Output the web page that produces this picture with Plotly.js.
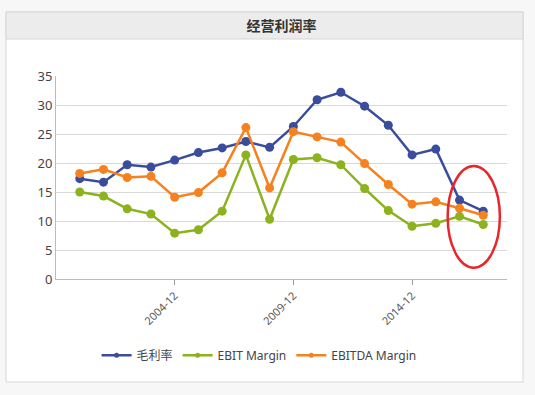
<!DOCTYPE html>
<html>
<head>
<meta charset="utf-8">
<script src="https://cdn.plot.ly/plotly-3.0.1.min.js"></script>
<style>
html,body{margin:0;padding:0;background:#f7f7f7;}
#chart{width:535px;height:395px;}
</style>
</head>
<body>
<div id="chart"></div>
<script>
const periods = ["2000-12","2001-12","2002-12","2003-12","2004-12","2005-12","2006-12","2007-12","2008-12",
  "2009-12","2010-12","2011-12","2012-12","2013-12","2014-12","2015-12","2016-12","2017-12"];
const grossMargin = [17.3,16.7,19.7,19.3,20.5,21.8,22.6,23.7,22.7,26.3,30.9,32.2,29.8,26.5,21.4,22.4,13.6,11.7];
const ebitMargin = [15.0,14.3,12.1,11.2,7.9,8.5,11.7,21.4,10.3,20.6,20.9,19.7,15.6,11.8,9.1,9.6,10.8,9.4];
const ebitdaMargin = [18.2,18.9,17.5,17.7,14.1,14.9,18.3,26.1,15.7,25.4,24.5,23.6,19.9,16.3,12.9,13.3,12.2,11.0];
const tickLabels = ["2004-12","2009-12","2014-12"];
const seriesNames = ["毛利率","EBIT Margin","EBITDA Margin"];

const colors = ["#3a4c9c","#8cb21f","#f5821f"];
const fontFam = "'Noto Sans', 'Noto Sans CJK SC', sans-serif";

function trace(name, y, color){
  return {
    type:"scatter", mode:"lines+markers", name:name, x:periods, y:y,
    line:{color:color, width:2.5},
    marker:{color:color, size:9},
    showlegend:false, legendgroup:name
  };
}
function legendItem(name, color){
  return {
    type:"scatter", mode:"lines+markers", name:name, x:[null], y:[null],
    line:{color:color, width:2.5},
    marker:{color:color, size:5},
    showlegend:true, legendgroup:name
  };
}

const data = [
  trace(seriesNames[0], grossMargin, colors[0]),
  trace(seriesNames[1], ebitMargin, colors[1]),
  trace(seriesNames[2], ebitdaMargin, colors[2]),
  legendItem(seriesNames[0], colors[0]),
  legendItem(seriesNames[1], colors[1]),
  legendItem(seriesNames[2], colors[2])
];

const layout = {
  width:535, height:395,
  paper_bgcolor:"#f7f7f7",
  plot_bgcolor:"rgba(0,0,0,0)",
  margin:{l:56, r:28, t:76, b:116},
  font:{family:fontFam, size:12, color:"#333"},
  showlegend:true,
  title:{text:"<b>经营利润率</b>", font:{family:"'Noto Sans CJK SC', sans-serif", size:14, color:"#333"},
    x:0.5, xanchor:"center", xref:"paper", y:1-26/395, yanchor:"middle", yref:"container"},
  xaxis:{
    type:"category", range:[-1,18],
    tickvals:tickLabels, ticktext:tickLabels,
    tickangle:-45, ticks:"outside", ticklen:5, tickcolor:"#999",
    tickfont:{size:11, color:"#555"},
    showgrid:false, showline:true, linecolor:"#bbb", linewidth:1, zeroline:false
  },
  yaxis:{
    range:[0,35], dtick:5, tick0:0,
    showgrid:true, gridcolor:"#d9d9d9", gridwidth:1,
    showline:true, linecolor:"#bbb", linewidth:1, zeroline:false,
    tickfont:{size:13, color:"#444"}
  },
  legend:{orientation:"h", x:0.09, xanchor:"left", y:-0.375, yanchor:"middle",
    font:{size:12, color:"#444"}, bgcolor:"rgba(0,0,0,0)", itemwidth:30},
  shapes:[
    {type:"rect", xref:"paper", yref:"paper", layer:"below",
      x0:-50/451, x1:1+16/451, y0:-(382-279)/203, y1:(279-12)/203,
      fillcolor:"#ffffff", line:{color:"#d6d6d6", width:1}},
    {type:"rect", xref:"paper", yref:"paper", layer:"below",
      x0:-50/451, x1:1+16/451, y0:(279-39)/203, y1:(279-12)/203,
      fillcolor:"#ececec", line:{color:"#d6d6d6", width:1}},
    {type:"circle", xref:"x", yref:"y", layer:"above",
      x0:15.5, x1:17.7, y0:1.95, y1:19.5,
      line:{color:"#e8262b", width:2.5}}
  ]
};

Plotly.newPlot("chart", data, layout, {displayModeBar:false, staticPlot:true});
</script>
</body>
</html>
